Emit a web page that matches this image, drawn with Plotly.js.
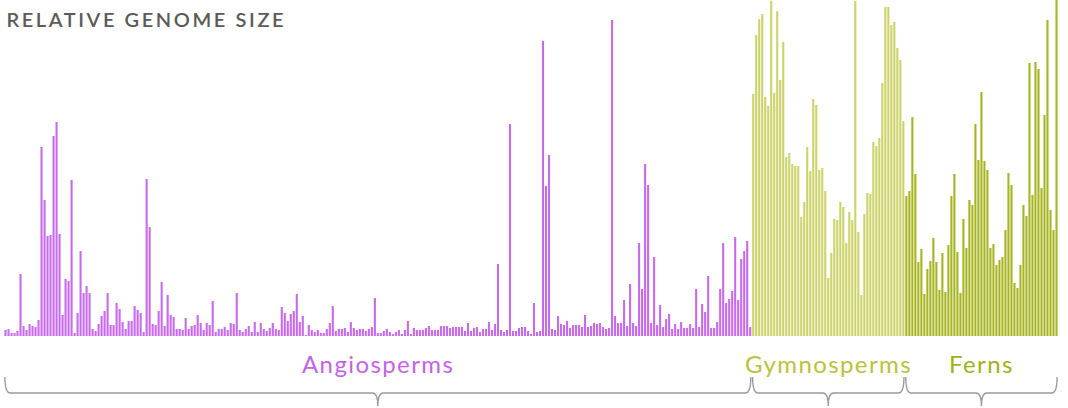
<!DOCTYPE html>
<html>
<head>
<meta charset="utf-8">
<script src="https://cdn.plot.ly/plotly-3.0.1.min.js"></script>
<style>
html,body{margin:0;padding:0;background:#fff;}
#chart{width:1068px;height:408px;}
.gtitle{letter-spacing:2.6px;}
.annotation-text{letter-spacing:1.4px;}
</style>
</head>
<body>
<div id="chart"></div>
<script>
// Relative genome size, one bar per species, grouped by plant lineage
const groupNames = ["Angiosperms", "Gymnosperms", "Ferns"];

const angiosperms = [6,7,3,3,5,62,10,6,12,10,9,16,189,136,100,101,200,214,102,21,57,55,156,3,23,85,43,50,43,7,5,12,20,25,43,11,11,33,27,14,7,15,
  15,30,26,23,4,157,109,12,11,25,54,10,41,21,19,7,7,6,18,7,10,11,21,13,6,13,11,35,4,7,7,9,6,13,12,43,6,4,7,10,4,14,
  4,13,7,5,8,13,7,6,29,23,15,22,25,42,14,20,1,11,6,4,6,3,3,7,13,30,5,7,7,8,4,14,8,6,7,7,5,7,9,38,3,
  3,5,7,4,2,4,6,2,6,15,2,8,6,6,6,8,10,6,6,6,10,10,10,8,9,9,9,9,5,13,5,8,9,4,7,7,14,6,12,72,6,4,
  6,212,5,5,8,9,9,5,2,33,4,5,295,150,181,7,6,20,12,11,15,8,11,11,11,9,21,9,10,13,12,13,9,7,8,316,20,13,13,36,
  10,52,13,10,93,47,172,151,13,79,11,31,9,17,22,7,12,7,14,8,8,12,8,47,9,32,24,60,8,8,14,47,93,33,37,45,99,36,77,85,95,9];

const gymnosperms = [242,301,317,322,239,230,335,243,325,256,294,179,183,172,170,170,119,134,189,165,237,231,166,168,145,58,83,117,116,134,129,93,124,116,335,104,
  41,122,143,142,194,190,198,253,329,329,311,314,288,276,215];

const ferns = [140,145,219,162,74,87,42,67,75,98,74,46,83,44,91,140,162,84,
  43,117,88,136,131,212,176,244,175,166,88,92,71,76,79,106,163,151,53,48,71,131,120,273,141,274,267,148,221,316,126,106,336];

const barColors = ["#c76aec", "#ccd36a", "#a6b51f"];
const labelColors = ["#c463e6", "#b9c23a", "#a2b118"];

const groups = [angiosperms, gymnosperms, ferns];
let xs = [], ys = [], cs = [], starts = [];
let idx = 0;
groups.forEach((g, gi) => {
  starts.push(idx);
  g.forEach(v => { xs.push(idx); ys.push(v); cs.push(barColors[gi]); idx++; });
});
const total = idx;

const trace = {
  type: "bar", x: xs, y: ys,
  marker: {color: cs, line: {width: 0}},
  hoverinfo: "none", cliponaxis: false
};

// brace geometry (paper y units below the axis)
const H = 336;
const py = p => (H - p) / H;
const yt = py(377), yh = py(393), yb = py(406);
const shapes = [], annotations = [];
groups.forEach((g, gi) => {
  const x0 = starts[gi] - 0.2, x1 = starts[gi] + g.length - 0.8;
  const xm = (x0 + x1) / 2;
  const r = 1.8;
  const path = `M ${x0},${yt} Q ${x0},${yh} ${x0 + r},${yh} L ${xm - r},${yh} Q ${xm},${yh} ${xm},${yb} Q ${xm},${yh} ${xm + r},${yh} L ${x1 - r},${yh} Q ${x1},${yh} ${x1},${yt}`;
  shapes.push({type: "path", xref: "x", yref: "paper", path: path,
    line: {color: "#9a9a9a", width: 1.4}});
  annotations.push({x: xm, xref: "x", y: py(363), yref: "paper", text: groupNames[gi],
    showarrow: false, xanchor: "center", yanchor: "middle",
    font: {family: "Lato, 'Open Sans', sans-serif", size: 24, color: labelColors[gi]}});
});

const layout = {
  width: 1068, height: 408,
  margin: {l: 4, r: 10, t: 0, b: 72, pad: 0},
  paper_bgcolor: "#ffffff", plot_bgcolor: "#ffffff",
  bargap: 0.3,
  showlegend: false,
  title: {text: "RELATIVE GENOME SIZE", x: 0.006, xanchor: "left", y: 0.95, yanchor: "middle",
    font: {family: "Lato, 'Open Sans', sans-serif", size: 20, color: "#5a5a5a", weight: 600}},
  xaxis: {range: [-0.5, total - 0.5], visible: false, fixedrange: true},
  yaxis: {range: [0, 336], visible: false, fixedrange: true},
  shapes: shapes,
  annotations: annotations
};

Plotly.newPlot("chart", [trace], layout, {displayModeBar: false, staticPlot: true});
</script>
</body>
</html>
